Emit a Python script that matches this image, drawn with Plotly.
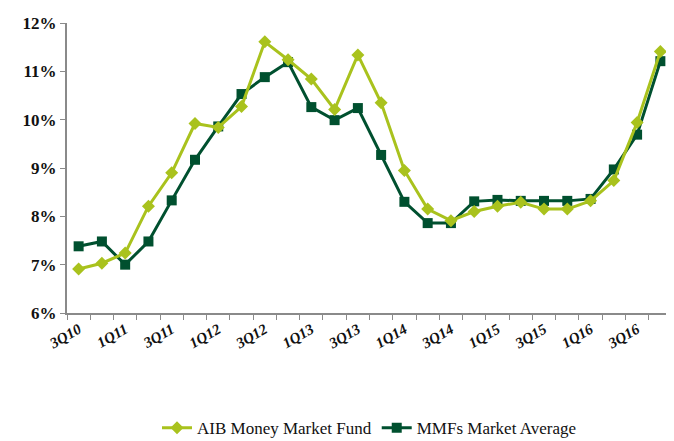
import plotly.graph_objects as go

quarters = ["3Q10", "4Q10", "1Q11", "2Q11", "3Q11", "4Q11", "1Q12", "2Q12", "3Q12", "4Q12",
            "1Q13", "2Q13", "3Q13", "4Q13", "1Q14", "2Q14", "3Q14", "4Q14", "1Q15", "2Q15",
            "3Q15", "4Q15", "1Q16", "2Q16", "3Q16", "4Q16"]
aib = [6.91, 7.03, 7.24, 8.21, 8.90, 9.92, 9.84, 10.27, 11.61, 11.24,
       10.84, 10.21, 11.34, 10.35, 8.95, 8.15, 7.91, 8.10, 8.21, 8.29,
       8.15, 8.15, 8.32, 8.74, 9.94, 11.41]
mmf = [7.38, 7.48, 7.00, 7.48, 8.33, 9.17, 9.86, 10.53, 10.88, 11.19,
       10.26, 9.99, 10.24, 9.27, 8.30, 7.86, 7.86, 8.31, 8.34, 8.32,
       8.32, 8.32, 8.36, 8.97, 9.69, 11.21]
shown_labels = ["3Q10", "1Q11", "3Q11", "1Q12", "3Q12", "1Q13", "3Q13",
                "1Q14", "3Q14", "1Q15", "3Q15", "1Q16", "3Q16"]
y_ticks = [6, 7, 8, 9, 10, 11, 12]

LIGHT = "#a9c21d"
DARK = "#00502f"
SERIF = "Liberation Serif"

fig = go.Figure()
fig.add_trace(go.Scatter(
    x=quarters, y=mmf, name="MMFs Market Average", mode="lines+markers",
    line=dict(color=DARK, width=3),
    marker=dict(symbol="square", size=10, color=DARK),
    legendrank=2,
))
fig.add_trace(go.Scatter(
    x=quarters, y=aib, name="AIB Money Market Fund", mode="lines+markers",
    line=dict(color=LIGHT, width=3),
    marker=dict(symbol="diamond", size=10, color=LIGHT),
    legendrank=1,
))

ticktext = [q if q in shown_labels else "" for q in quarters]

fig.update_layout(
    width=666, height=433,
    margin=dict(l=59, r=2, t=15, b=128, autoexpand=False),
    plot_bgcolor="white", paper_bgcolor="white",
    showlegend=True,
    font=dict(family=SERIF),
    legend=dict(orientation="h", x=0.5, xanchor="center", y=-0.335, yanchor="top",
                font=dict(family=SERIF, size=17, color="#111111"),
                traceorder="normal", itemwidth=30, tracegroupgap=0),
    xaxis=dict(
        type="category", categoryorder="array", categoryarray=quarters,
        range=[-0.5, len(quarters) - 0.5], autorange=False,
        tickmode="array", tickvals=quarters, ticktext=ticktext,
        tickson="boundaries", ticks="outside", ticklen=5, tickcolor="#8a8a8a",
        tickangle=-30, automargin=False,
        tickfont=dict(family=SERIF, size=15, color="#111111", style="italic", weight="bold"),
        showline=True, linecolor="#8a8a8a", linewidth=2,
        showgrid=False, zeroline=False,
    ),
    yaxis=dict(
        range=[6, 12], tickmode="array", tickvals=y_ticks,
        ticktext=[f"{v}%" for v in y_ticks], automargin=False,
        ticks="outside", ticklen=5, tickcolor="#8a8a8a",
        tickfont=dict(family=SERIF, size=17, color="#111111", weight="bold"),
        showline=True, linecolor="#8a8a8a", linewidth=2,
        showgrid=False, zeroline=False,
    ),
)

fig.write_html("out.html")
